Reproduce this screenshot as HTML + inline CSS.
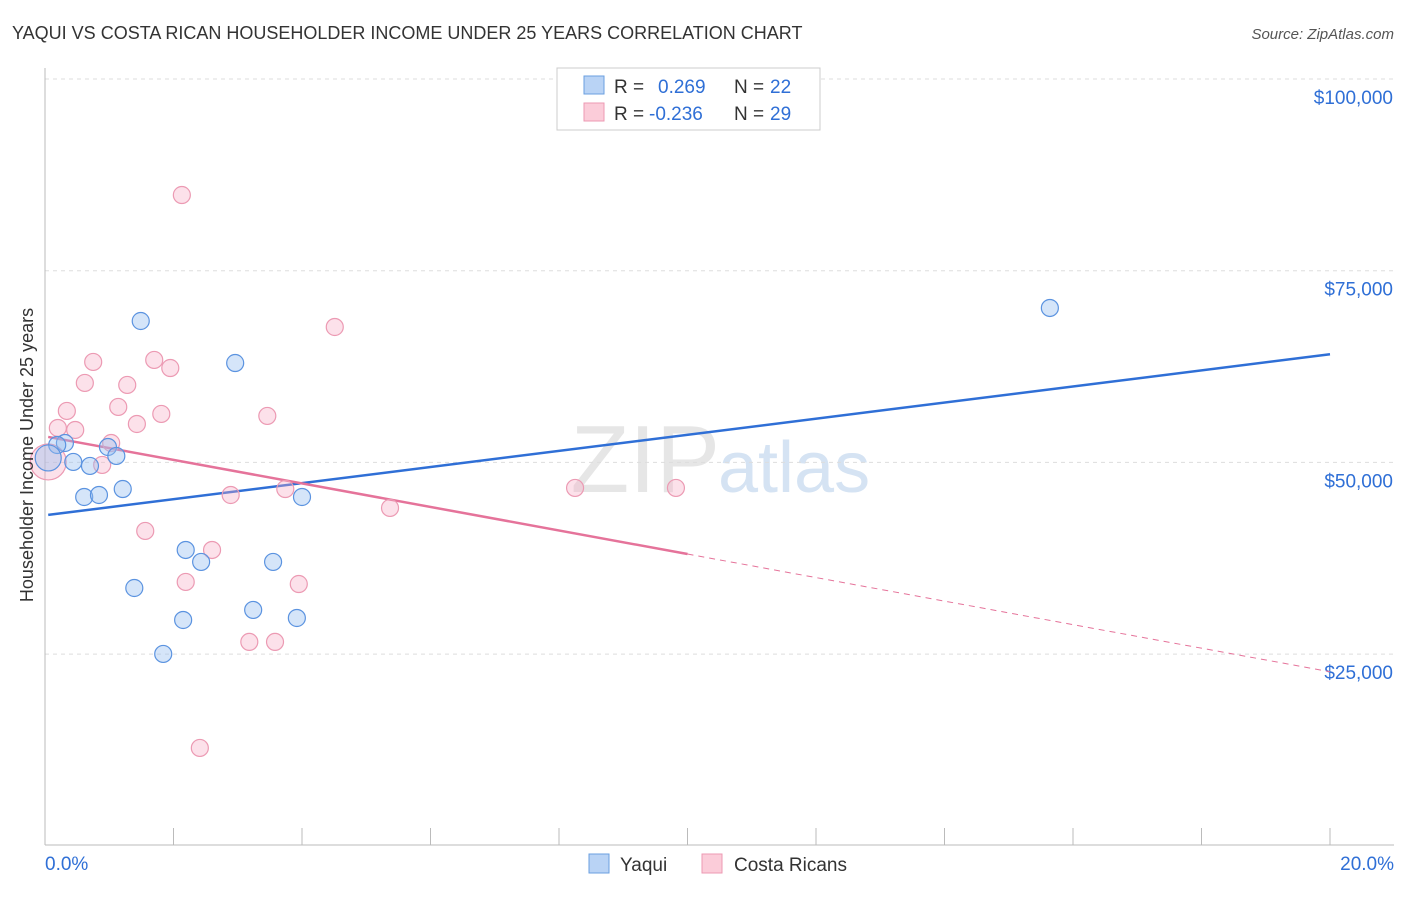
<!DOCTYPE html>
<html><head><meta charset="utf-8"><style>
body{margin:0;background:#fff;font-family:"Liberation Sans",sans-serif;}
svg text{font-family:"Liberation Sans",sans-serif;}
</style></head><body>
<svg id="chart" width="1406" height="892" xmlns="http://www.w3.org/2000/svg">
<text x="12" y="39" font-size="18" fill="#333">YAQUI VS COSTA RICAN HOUSEHOLDER INCOME UNDER 25 YEARS CORRELATION CHART</text>
<text x="1394" y="39" font-size="15" fill="#555" text-anchor="end" font-style="italic">Source: ZipAtlas.com</text>
<text x="720" y="492" font-size="96" fill="#e6e6e6" text-anchor="end" font-family="Liberation Serif">ZIP</text>
<text x="718" y="492" font-size="72" fill="#d5e3f3">atlas</text>
<g id="grid"></g><g id="axes"></g><g id="lines"></g><g id="points"></g>
<text transform="translate(33,455) rotate(-90)" font-size="18" fill="#333" text-anchor="middle">Householder Income Under 25 years</text>
<g>
<rect x="557" y="68" width="263" height="62" fill="#fff" stroke="#ccc"/>
<rect x="584" y="76" width="20" height="18" fill="#b9d3f5" stroke="#6a9fe0"/>
<rect x="584" y="103" width="20" height="18" fill="#fbccd9" stroke="#ec9ab3"/>
<text x="614" y="93" font-size="19" fill="#333">R = </text><text x="658" y="93" font-size="19" fill="#2f6fd6">0.269</text>
<text x="734" y="93" font-size="19" fill="#333">N = </text><text x="770" y="93" font-size="19" fill="#2f6fd6">22</text>
<text x="614" y="120" font-size="19" fill="#333">R = </text><text x="649" y="120" font-size="19" fill="#2f6fd6">-0.236</text>
<text x="734" y="120" font-size="19" fill="#333">N = </text><text x="770" y="120" font-size="19" fill="#2f6fd6">29</text>
</g>
<g>
<rect x="589" y="854" width="20" height="19" fill="#b9d3f5" stroke="#6a9fe0"/>
<text x="620" y="871" font-size="19" fill="#333">Yaqui</text>
<rect x="702" y="854" width="20" height="19" fill="#fbccd9" stroke="#ec9ab3"/>
<text x="734" y="871" font-size="19" fill="#333">Costa Ricans</text>
</g>
</svg>
<script>
const yTicks=[25000,50000,75000,100000];
const yTickLabels=["$25,000","$50,000","$75,000","$100,000"];
const xTickLabels=["0.0%","20.0%"];
const yaquiX=[0.31,0.44,0.70,0.61,0.84,0.98,1.11,1.21,1.49,1.39,1.84,2.15,2.19,2.43,2.96,3.24,3.55,3.92,4.00,15.64,0.19,0.05];
const yaquiY=[52530,50060,49540,45490,45750,52010,50840,46530,68440,33620,25020,29450,38580,37020,62960,30760,37020,29710,45490,70140,52270,50580];
const costaX=[0.05,0.20,0.34,0.47,0.62,0.75,0.89,1.03,1.14,1.28,1.43,1.56,1.70,1.81,1.95,2.13,2.19,2.41,2.60,2.89,3.18,3.46,3.58,3.74,3.95,4.51,5.37,8.25,9.82];
const costaY=[50060,54490,56710,54230,60360,63100,49670,52530,57230,60100,55010,41060,63360,56320,62310,84870,34410,12760,38580,45750,26590,56060,26590,46530,34140,67660,44060,46670,46670];
const yaquiTrend=[43100,1050];   // intercept, slope per %
const costaTrend=[53400,-1535];
const NS="http://www.w3.org/2000/svg";
const xs=p=>45+p*64.25;
const ys=v=>79+(100000-v)*0.007668;
function mk(t,a,parent){const e=document.createElementNS(NS,t);for(const k in a)e.setAttribute(k,a[k]);document.getElementById(parent).appendChild(e);return e;}
yTicks.forEach((v,i)=>{
 const l=mk('line',{x1:45,x2:1394,y1:ys(v),y2:ys(v),stroke:'#ddd','stroke-dasharray':'4,4'},'grid');
 
 
 const t=mk('text',{x:1393,y:ys(v)+25,'font-size':19,fill:'#2f6fd6','text-anchor':'end'},'grid');
 t.textContent=yTickLabels[i];
 
 
});
const ax=mk('line',{x1:45,x2:45,y1:68,y2:845,stroke:'#bbb'},'axes');


const bx=mk('line',{x1:45,x2:1394,y1:845,y2:845,stroke:'#bbb'},'axes');


for(let i=1;i<=10;i++){const tk=mk('line',{x1:xs(i*2),x2:xs(i*2),y1:828,y2:845,stroke:'#bbb'},'axes');
 
 }
[[0,'start',45],[1,'end',1394]].forEach(([i,a,x])=>{const t=mk('text',{x:x,y:870,'font-size':19,fill:'#2f6fd6','text-anchor':a},'axes');t.textContent=xTickLabels[i];
 
 });
const yl=mk('line',{x1:xs(0.05),y1:ys(yaquiTrend[0]+yaquiTrend[1]*0.05),x2:xs(20),y2:ys(yaquiTrend[0]+yaquiTrend[1]*20),stroke:'#2f6fd6','stroke-width':2.5},'lines');


const cl=mk('line',{x1:xs(0.05),y1:ys(costaTrend[0]+costaTrend[1]*0.05),x2:xs(10),y2:ys(costaTrend[0]+costaTrend[1]*10),stroke:'#e5739a','stroke-width':2.5},'lines');


const cd=mk('line',{x1:xs(10),y1:ys(costaTrend[0]+costaTrend[1]*10),x2:xs(20),y2:ys(costaTrend[0]+costaTrend[1]*20),stroke:'#e5739a','stroke-width':1,'stroke-dasharray':'6,5'},'lines');


costaX.forEach((x,i)=>{const c=mk('circle',{cx:xs(x),cy:ys(costaY[i]),r:i==0?18:8.5,fill:'rgba(247,170,195,0.35)',stroke:'#ec9ab3','stroke-width':1.2},'points');
 
 });
yaquiX.forEach((x,i)=>{const c=mk('circle',{cx:xs(x),cy:ys(yaquiY[i]),r:i==21?13:8.5,fill:'rgba(150,190,240,0.4)',stroke:'#5b93e0','stroke-width':1.2},'points');
 
 });
</script>
</body></html>
